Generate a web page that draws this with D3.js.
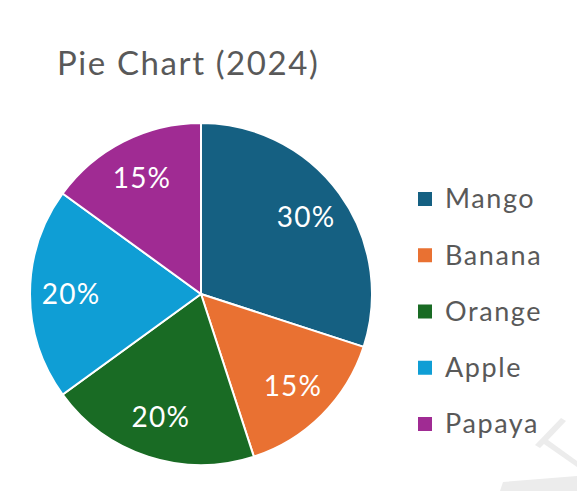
<!DOCTYPE html>
<html>
<head>
<meta charset="utf-8">
<script src="https://cdn.jsdelivr.net/npm/d3@7"></script>
<style>
    body { margin: 0; background: #fff; }
    svg { display: block; }
</style>
</head>
<body>
<div id="chart"></div>
<script>
const fruits = ["Mango", "Banana", "Orange", "Apple", "Papaya"];
const shares = [30, 15, 20, 20, 15];
const colors = ["#156082", "#E97132", "#196B24", "#0F9ED5", "#A02B93"];

const width = 577, height = 491;
const cx = 201, cy = 294, radius = 171;
const font = "Lato, sans-serif";

const svg = d3.select("#chart")
    .append("svg")
    .attr("width", width)
    .attr("height", height);

// faint watermark in the corner
svg.append("path")
    .attr("d", "M561,418 L566,421 L548,440 L577,461 L577,467 L544,444 L540,448 L535,445 Z")
    .attr("fill", "#ececec");
svg.append("path")
    .attr("d", "M500,491 L503,482 L577,476 L577,491 Z")
    .attr("fill", "#ececec");

svg.append("text")
    .attr("x", 57)
    .attr("y", 75)
    .attr("font-family", font)
    .attr("font-size", 33)
    .attr("letter-spacing", 1.6)
    .attr("fill", "#595959")
    .text("Pie Chart (2024)");

const color = d3.scaleOrdinal().domain(fruits).range(colors);

const pie = d3.pie()
    .sort(null)
    .value(d => d.value);

const data = pie(fruits.map((f, i) => ({ key: f, value: shares[i] })));

const arc = d3.arc().innerRadius(0).outerRadius(radius);
const labelArc = d3.arc().innerRadius(radius * 0.76).outerRadius(radius * 0.76);

const g = svg.append("g")
    .attr("transform", "translate(" + cx + "," + cy + ")");

g.selectAll("path")
    .data(data)
    .enter()
    .append("path")
    .attr("d", arc)
    .attr("fill", d => color(d.data.key))
    .attr("stroke", "#fff")
    .attr("stroke-width", 2);

g.selectAll("text")
    .data(data)
    .enter()
    .append("text")
    .attr("transform", d => "translate(" + labelArc.centroid(d) + ")")
    .attr("text-anchor", "middle")
    .attr("dy", "0.35em")
    .attr("font-family", font)
    .attr("font-size", 28)
    .attr("letter-spacing", 1.2)
    .attr("fill", "#fff")
    .text(d => d.data.value + "%");

const legendY = d3.scalePoint().domain(fruits).range([199, 424]);

const legend = svg.append("g")
    .selectAll("g")
    .data(fruits)
    .enter()
    .append("g")
    .attr("transform", d => "translate(418," + legendY(d) + ")");

legend.append("rect")
    .attr("x", 0)
    .attr("y", -7)
    .attr("width", 14)
    .attr("height", 14)
    .attr("fill", d => color(d));

legend.append("text")
    .attr("x", 27)
    .attr("dy", "0.35em")
    .attr("font-family", font)
    .attr("font-size", 27)
    .attr("letter-spacing", 1.6)
    .attr("fill", "#595959")
    .text(d => d);
</script>
</body>
</html>
